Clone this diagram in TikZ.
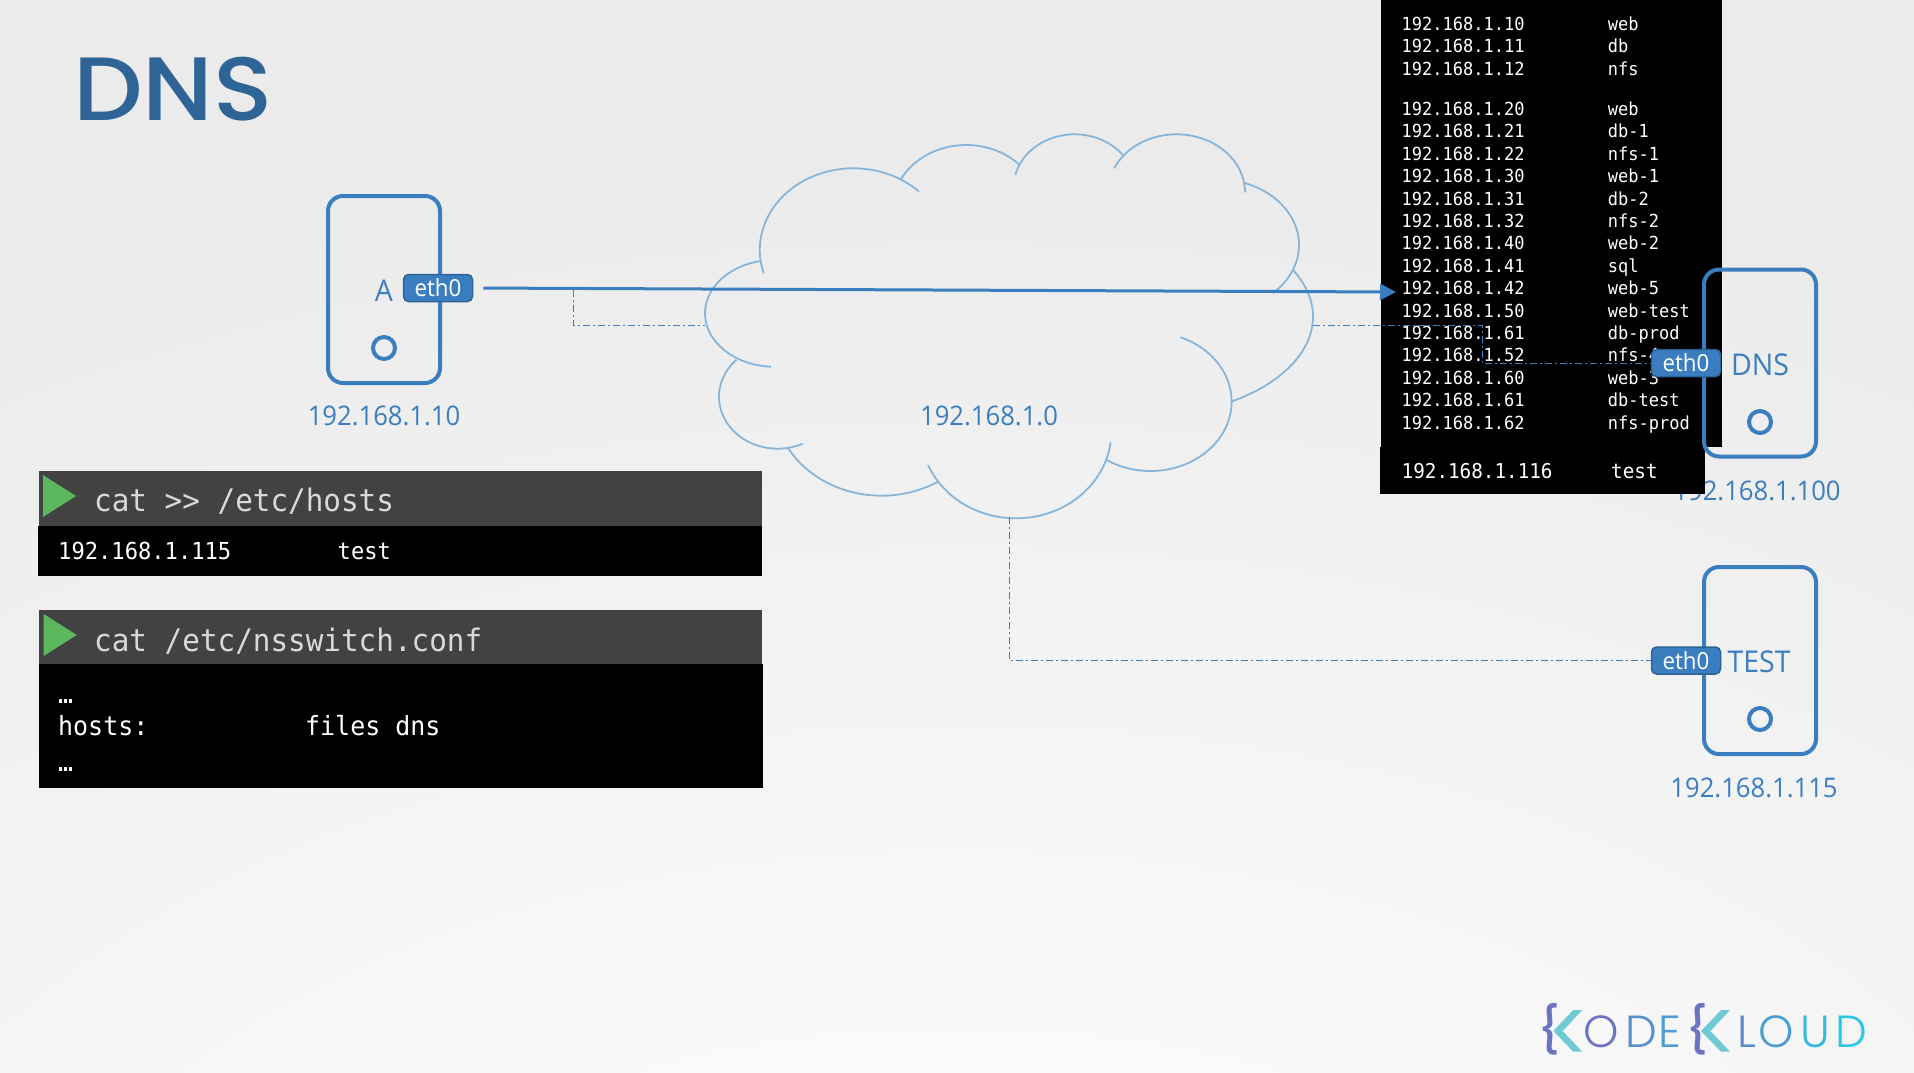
\documentclass[tikz,border=0pt]{standalone}
\usepackage{fontspec}
\setmainfont[FakeStretch=0.95]{Open Sans}
\setmonofont[FakeStretch=0.945]{DejaVu Sans Mono}
\newfontfamily\titlefont[FakeStretch=1.09]{Poppins Medium}
\newfontfamily\logofont{Poppins Light}
\newfontfamily\bracefont{Poppins Medium}
\usetikzlibrary{arrows.meta}
\definecolor{hostblue}{HTML}{3B7EBF}
\definecolor{ethedge}{HTML}{2C6397}
\definecolor{cloudblue}{HTML}{86B5DB}
\definecolor{titleblue}{HTML}{2F6496}
\definecolor{headgray}{HTML}{424242}
\definecolor{playgreen}{HTML}{5CB85C}
\definecolor{bggray}{HTML}{EBEBEB}
\definecolor{bgwhite}{HTML}{FDFDFD}
\definecolor{logoteal}{HTML}{6FCBD3}
\definecolor{logoviolet}{HTML}{6C74C2}
\pgfdeclareradialshading{bgglow}{\pgfpoint{0bp}{-50bp}}{color(0bp)=(white); color(12bp)=(bgwhite); color(48bp)=(bggray); color(120bp)=(bggray)}
\tikzset{>={Triangle[width=16pt,length=16pt]}}
\tikzset{
  hostbox/.style={draw=hostblue, line width=4pt, rounded corners=15pt, minimum width=112pt, minimum height=187pt, inner sep=0pt},
  hostdot/.style={circle, draw=hostblue, line width=4pt, minimum size=22pt, inner sep=0pt},
  ethtag/.style={draw=ethedge, fill=hostblue, line width=1.5pt, rounded corners=5pt, minimum width=69pt, minimum height=27pt, inner sep=0pt, text=white, font=\fontsize{23.5}{28}\selectfont},
  hostname/.style={text=hostblue, inner sep=0pt, font=\fontsize{30}{32}\selectfont},
  iplabel/.style={text=hostblue, inner sep=0pt, font=\fontsize{27}{32}\selectfont},
  cloudline/.style={draw=cloudblue, line width=1.8pt},
  netline/.style={->, draw=hostblue, line width=3pt},
  netdash/.style={draw=hostblue, line width=1pt, dash pattern=on 7pt off 3pt on 2pt off 3pt},
  blackbox/.style={fill=black, inner sep=0pt},
  headbar/.style={fill=headgray, inner sep=0pt},
  tabletext/.style={anchor=base west, inner sep=0pt, text=white, font=\ttfamily\fontsize{18}{20}\selectfont},
  tablelast/.style={anchor=base west, inner sep=0pt, text=white, font=\ttfamily\fontsize{20.4}{22}\selectfont},
  cmdtext/.style={anchor=base west, inner sep=0pt, text=black!15, font=\ttfamily\fontsize{31}{34}\selectfont},
  bodytext/.style={anchor=base west, inner sep=0pt, text=white, font=\ttfamily\fontsize{23.4}{26}\selectfont},
  confortext/.style={anchor=base west, inner sep=0pt, text=white, font=\ttfamily\fontsize{26.4}{28}\selectfont},
  logoletter/.style={anchor=base west, inner sep=0pt, font=\logofont\fontsize{45}{48}\selectfont},
  logobrace/.style={inner sep=0pt, text=logoviolet, font=\bracefont\fontsize{46}{48}\selectfont},
}
\newcommand{\HOSTROW}[4]{
  \node[tabletext] (ip#1) at (1401.5,#2) {#3};
  \node[tabletext] (name#1) at (1607.6,#2) {#4};
}
%% centre x, centre y, x radius, y radius, start angle, end angle
\newcommand{\LOBE}[6]{
  \draw[cloudline] ([shift={(#5:#3 and #4)}]#1,#2) arc[start angle=#5, end angle=#6, x radius=#3, y radius=#4];
}

\begin{document}
\begin{tikzpicture}[x=1pt,y=-1pt]

  \useasboundingbox (0,0) rectangle (1914,1072);
  \shade[shading=bgglow] (0,0) rectangle (1914,1072);

  \node[anchor=base west, inner sep=0pt, text=titleblue, font=\titlefont\fontsize{90}{90}\selectfont] (title) at (73,120) {DNS};

  %% cloud, one arc per lobe
  \LOBE{853.5}{250}{93.7}{81.7}{163.4}{314.4}
  \LOBE{966.2}{209.5}{74}{64.5}{208}{316}
  \LOBE{1074.6}{187.5}{61}{53.2}{193.6}{322.3}
  \LOBE{1176.5}{192.3}{68.5}{58}{204.4}{360}
  \LOBE{1216.5}{245}{82.5}{66}{289.3}{407}
  \LOBE{1140}{316.7}{173}{100}{332.2}{418.2}
  \LOBE{1150.5}{401.7}{81.1}{69.3}{291.7}{482.4}
  \LOBE{1016}{431.7}{95.3}{86.6}{7}{157.4}
  \LOBE{881.6}{400.4}{108}{95.3}{58.5}{150.7}
  \LOBE{777.6}{396.7}{58.6}{52}{64.6}{225.3}
  \LOBE{775}{313.3}{70}{53.5}{93.3}{257.8}
  \node[iplabel] (cloudip) at (989,416) {192.168.1.0};

  %% host A
  \node[hostbox] (hostA) at (384,289.5) {};
  \node[hostdot] (dotA) at (384,348) {};
  \node[hostname] (nameA) at (384,291) {A};
  \node[ethtag] (ethA) at (438,288) {eth0};
  \node[iplabel] (ipA) at (384,416) {192.168.1.10};

  %% hosts file on the dns server
  \node[iplabel] (ipDNS) at (1757,491) {192.168.1.100};
  \node[blackbox, minimum width=341pt, minimum height=447pt] (tablebox) at (1551.5,223.5) {};
  \node[blackbox, minimum width=325pt, minimum height=47pt] (lastbox) at (1542.5,470.5) {};
  \HOSTROW{1}{30.5}{192.168.1.10}{web}
  \HOSTROW{2}{52.5}{192.168.1.11}{db}
  \HOSTROW{3}{75.5}{192.168.1.12}{nfs}
  \HOSTROW{4}{115.5}{192.168.1.20}{web}
  \HOSTROW{5}{137.5}{192.168.1.21}{db-1}
  \HOSTROW{6}{160.5}{192.168.1.22}{nfs-1}
  \HOSTROW{7}{182.5}{192.168.1.30}{web-1}
  \HOSTROW{8}{205.5}{192.168.1.31}{db-2}
  \HOSTROW{9}{227.5}{192.168.1.32}{nfs-2}
  \HOSTROW{10}{249.5}{192.168.1.40}{web-2}
  \HOSTROW{11}{272.5}{192.168.1.41}{sql}
  \HOSTROW{12}{294.5}{192.168.1.42}{web-5}
  \HOSTROW{13}{317.5}{192.168.1.50}{web-test}
  \HOSTROW{14}{339.5}{192.168.1.61}{db-prod}
  \HOSTROW{15}{361.5}{192.168.1.52}{nfs-4}
  \HOSTROW{16}{384.5}{192.168.1.60}{web-3}
  \HOSTROW{17}{406.5}{192.168.1.61}{db-test}
  \HOSTROW{18}{429.5}{192.168.1.62}{nfs-prod}
  \node[tablelast] (iplast) at (1401.5,478) {192.168.1.116};
  \node[tablelast] (namelast) at (1611,478) {test};

  %% host DNS
  \node[hostbox] (hostDNS) at (1760,363) {};
  \node[hostdot] (dotDNS) at (1760,422) {};
  \node[hostname] (nameDNS) at (1760,365) {DNS};
  \node[ethtag] (ethDNS) at (1686,363) {eth0};

  %% host TEST
  \node[hostbox] (hostTEST) at (1760,660.5) {};
  \node[hostdot] (dotTEST) at (1760,719) {};
  \node[hostname] (nameTEST) at (1759,662) {TEST};
  \node[ethtag] (ethTEST) at (1686,660.5) {eth0};
  \node[iplabel] (ipTEST) at (1754,788) {192.168.1.115};

  %% links
  \coordinate (arrowtip) at (1396,292);
  \coordinate (linkjoin) at (573,290);
  \coordinate (cloudW) at (705,325);
  \coordinate (cloudE) at (1313,325);
  \coordinate (cloudS) at (1009,517);
  \coordinate (dnsjog) at (1482,325);
  \draw[netline, shorten <=10pt] (ethA.east) -- (arrowtip);
  \draw[netdash] (linkjoin) |- (cloudW);
  \draw[netdash] (cloudE) -- (dnsjog) |- (ethDNS.west);
  \draw[netdash] (cloudS) |- (ethTEST.west);

  %% terminals
  \node[headbar, minimum width=723pt, minimum height=55pt] (hostsbar) at (400,498.5) {};
  \node[blackbox, minimum width=724pt, minimum height=50pt] (hostsbody) at (400,551) {};
  \fill[playgreen] (43,475) -- (76,496) -- (43,517) -- cycle;
  \node[cmdtext] (hostscmd) at (94,511.7) {cat >> /etc/hosts};
  \node[bodytext] (hostsip) at (58,559) {192.168.1.115};
  \node[bodytext] (hostsname) at (337.5,559) {test};

  \node[headbar, minimum width=723pt, minimum height=54pt] (confbar) at (400.5,637) {};
  \node[blackbox, minimum width=724pt, minimum height=124pt] (confbody) at (400.5,726) {};
  \fill[playgreen] (43.7,614) -- (76.7,635) -- (43.7,656) -- cycle;
  \node[cmdtext] (confcmd) at (94,651) {cat /etc/nsswitch.conf};
  \node[confortext] (confdots) at (58,703) {…};
  \node[confortext] (confhosts) at (58,735) {hosts:};
  \node[confortext] (conffiles) at (305,735) {files dns};
  \node[confortext] (confdotsb) at (58,771) {…};

  %% logo
  \node[logobrace] (logobraceA) at (1549,1029) {\{};
  \fill[logoteal] (1573.3,1010) -- (1582.3,1010) -- (1562.7,1031) -- (1582.3,1051.7) -- (1573.3,1051.7) -- (1553.3,1031) -- cycle;
  \node[logoletter, text=logoviolet] (logoOa) at (1583,1047) {O};
  \node[logoletter, text=logoviolet!80!cyan] (logoDa) at (1625,1047) {D};
  \node[logoletter, text=logoviolet!70!cyan] (logoEa) at (1658,1047) {E};
  \node[logobrace] (logobraceB) at (1697,1029) {\{};
  \fill[logoteal] (1721,1010) -- (1730,1010) -- (1710.4,1031) -- (1730,1051.7) -- (1721,1051.7) -- (1701,1031) -- cycle;
  \node[logoletter, text=logoviolet!85!cyan] (logoLb) at (1737,1047) {L};
  \node[logoletter, text=logoviolet!70!cyan] (logoOb) at (1758,1047) {O};
  \node[logoletter, text=logoviolet!50!cyan] (logoUb) at (1800,1047) {U};
  \node[logoletter, text=logoviolet!40!cyan] (logoDb) at (1835,1047) {D};

\end{tikzpicture}
\end{document}
